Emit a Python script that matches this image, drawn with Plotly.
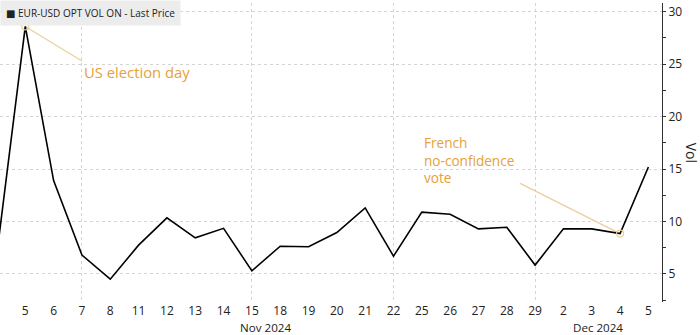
import plotly.graph_objects as go

dates = ["2024-11-04", "2024-11-05", "2024-11-06", "2024-11-07", "2024-11-08",
         "2024-11-11", "2024-11-12", "2024-11-13", "2024-11-14", "2024-11-15",
         "2024-11-18", "2024-11-19", "2024-11-20", "2024-11-21", "2024-11-22",
         "2024-11-25", "2024-11-26", "2024-11-27", "2024-11-28", "2024-11-29",
         "2024-12-02", "2024-12-03", "2024-12-04", "2024-12-05"]
vol = [7.0, 28.6, 13.9, 6.8, 4.5,
       7.75, 10.35, 8.45, 9.35, 5.3,
       7.65, 7.6, 8.95, 11.3, 6.7,
       10.9, 10.7, 9.3, 9.45, 5.85,
       9.3, 9.3, 8.85, 15.2]
tick_labels = [str(int(d[-2:])) for d in dates]
event_dates = ["2024-11-05", "2024-12-04"]
event_labels = ["US election day", "French<br>no-confidence<br>vote"]
grid_dates = ["2024-11-07", "2024-11-15", "2024-11-22", "2024-11-29"]
month_labels = ["Nov 2024", "Dec 2024"]

idx = list(range(len(dates)))
ev_idx = [dates.index(d) for d in event_dates]
ev_val = [vol[i] for i in ev_idx]

FONT = "Open Sans"
ORANGE = "#e5a13a"
TAN = "#e9cf9c"

fig = go.Figure()
fig.add_trace(go.Scatter(x=idx, y=vol, mode="lines",
                         line=dict(color="#000000", width=1.6),
                         showlegend=False, hoverinfo="skip"))
fig.add_trace(go.Scatter(x=ev_idx, y=ev_val, mode="markers",
                         marker=dict(symbol="circle-open", size=7, color=TAN,
                                     line=dict(width=1.2, color=TAN)),
                         showlegend=False, hoverinfo="skip"))

# connectors
fig.add_shape(type="line", xref="x", yref="y", x0=ev_idx[0], y0=ev_val[0],
              x1=3, y1=25.3, line=dict(color=TAN, width=1.2), layer="below")
fig.add_shape(type="line", xref="x", yref="y", x0=ev_idx[1], y0=ev_val[1],
              x1=18.47, y1=13.64, line=dict(color=TAN, width=1.2), layer="below")

# event labels
fig.add_annotation(x=3, y=24.27, xref="x", yref="y", text=event_labels[0],
                   showarrow=False, xanchor="left", yanchor="middle",
                   font=dict(family=FONT, size=14.8, color=ORANGE))
fig.add_annotation(x=15, y=15.86, xref="x", yref="y", text=event_labels[1],
                   showarrow=False, xanchor="left", yanchor="middle", align="left",
                   font=dict(family=FONT, size=13.6, color=ORANGE))

# month labels
fig.add_annotation(x=9.49, y=0, xref="x", yref="paper", text=month_labels[0],
                   showarrow=False, xanchor="center", yanchor="top", yshift=-17,
                   borderpad=0,
                   font=dict(family=FONT, size=11.6, color="#222222"))
fig.add_annotation(x=21.22, y=0, xref="x", yref="paper", text=month_labels[1],
                   showarrow=False, xanchor="center", yanchor="top", yshift=-17,
                   borderpad=0,
                   font=dict(family=FONT, size=11.6, color="#222222"))

# y title
fig.add_annotation(x=1.045, y=0.5, xref="paper", yref="paper", text="Vol",
                   textangle=90, showarrow=False, xanchor="center", yanchor="middle",
                   font=dict(family=FONT, size=14, color="#222222"))

# legend box
fig.add_annotation(x=0, y=1.01, xref="paper", yref="paper",
                   text="<span style='font-family:DejaVu Sans'>■</span> EUR-USD OPT VOL ON - Last Price",
                   showarrow=False, xanchor="left", yanchor="top", align="left",
                   bgcolor="#ececec", borderpad=5,
                   font=dict(family=FONT, size=10, color="#222222"))

fig.update_layout(
    width=700, height=335,
    margin=dict(l=0, r=38, t=3, b=33),
    paper_bgcolor="white", plot_bgcolor="white",
    font=dict(family=FONT, size=12, color="#222222"),
    xaxis=dict(range=[0.107, 23.48], tickmode="array", tickvals=idx,
               ticktext=tick_labels, showgrid=False, zeroline=False,
               showline=False, ticks="",
               tickfont=dict(family=FONT, size=12, color="#222222"),
               minor=dict(tickmode="array", tickvals=[dates.index(d) for d in grid_dates],
                          showgrid=True, gridcolor="#d4d4d4", griddash="dot",
                          gridwidth=1, ticks="")),
    yaxis=dict(range=[2.33, 30.83], side="right", dtick=5, tick0=0,
               showgrid=True, gridcolor="#d4d4d4", griddash="dot", gridwidth=1,
               zeroline=False, showline=True, linecolor="#333333", linewidth=1,
               ticks="outside", ticklen=3, tickcolor="#333333",
               tickfont=dict(family=FONT, size=12, color="#222222"),
               minor=dict(dtick=2.5, ticks="outside", ticklen=3, tickcolor="#333333",
                          showgrid=False)),
)

fig.write_html("out.html")
